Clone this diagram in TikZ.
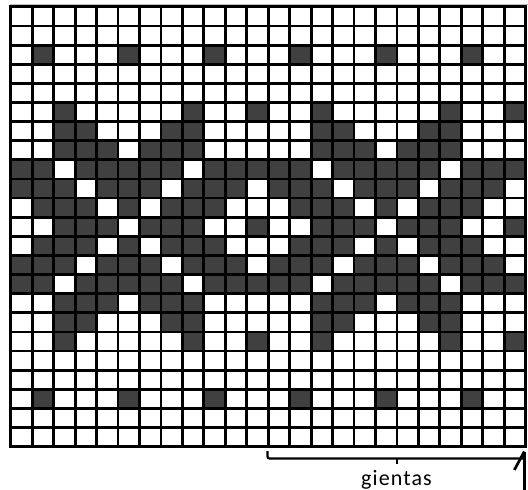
\documentclass[tikz,border=0pt]{standalone}
\usepackage{fontspec}
\setsansfont{Carlito}
\usepackage{tikz}
\usetikzlibrary{positioning, calc}
\definecolor{darkcell}{RGB}{64,64,64}
\definecolor{edgegray}{RGB}{190,190,190}

\begin{document}
\begin{tikzpicture}[x=1bp, y=-1bp,
    cell/.style={fill=darkcell},
    gridline/.style={line width=2.8bp, line cap=rect},
    brace/.style={line width=2.2bp, rounded corners=2bp},
    label/.style={font=\sffamily\fontsize{22bp}{26bp}\selectfont\addfontfeature{LetterSpace=5}, inner sep=0pt, anchor=base}]
  \useasboundingbox (0,0) rectangle (528,490);
  \def\cw{21.45}
  \def\ch{19.12}
  % Muster
  \foreach \rows/\cols in {
      {3,21}/{2,6,10,14,18,22},
      {6,18}/{3,9,12,15,21,24},
      {7,17}/{3,4,8,9,15,16,20,21},
      {8,16}/{3,4,5,7,8,9,15,16,17,19,20,21},
      {9,15}/{1,2,4,5,6,7,8,10,11,12,13,14,16,17,18,19,20,22,23,24},
      {10,14}/{1,2,3,5,6,7,9,10,11,13,14,15,17,18,19,21,22,23},
      {11,13}/{2,3,4,6,8,9,10,14,15,16,18,20,21,22},
      {12}/{3,4,5,7,8,9,12,15,16,17,19,20,21,24}} {
    \foreach \r in \rows {
      \foreach \c in \cols {
        \fill[cell] ({10.8+(\c-1)*\cw},{6.9+(\r-1)*\ch}) rectangle ++(\cw,\ch);
      }
    }
  }
  % Raster
  \draw[edgegray, line width=1bp] (10,4.8) -- (528,4.8);
  \foreach \i in {0,...,24}
    \draw[gridline] ({10.8+\i*\cw},6.9) -- ++(0,{23*\ch});
  \foreach \j in {0,...,23}
    \draw[gridline] (10.8,{6.9+\j*\ch}) -- ++({24*\cw},0);
  % Klammer
  \coordinate (bl) at (267.5,451);
  \coordinate (br) at (524.3,458.5);
  \coordinate (bm) at (396.8,458.5);
  \draw[brace] (bl) -- (bl |- br) -- (br);
  \draw[line width=2.2bp] (bm) -- ++(0,5.5);
  \node[label] (gap) at (396.5,485) {gientas};
  % Pfeil
  \coordinate (tip) at (524.3,451.5);
  \draw[line width=2.7bp] (tip |- 0,490) -- (tip);
  \draw[line width=2.7bp] (514.3,470) -- (tip);
\end{tikzpicture}
\end{document}
